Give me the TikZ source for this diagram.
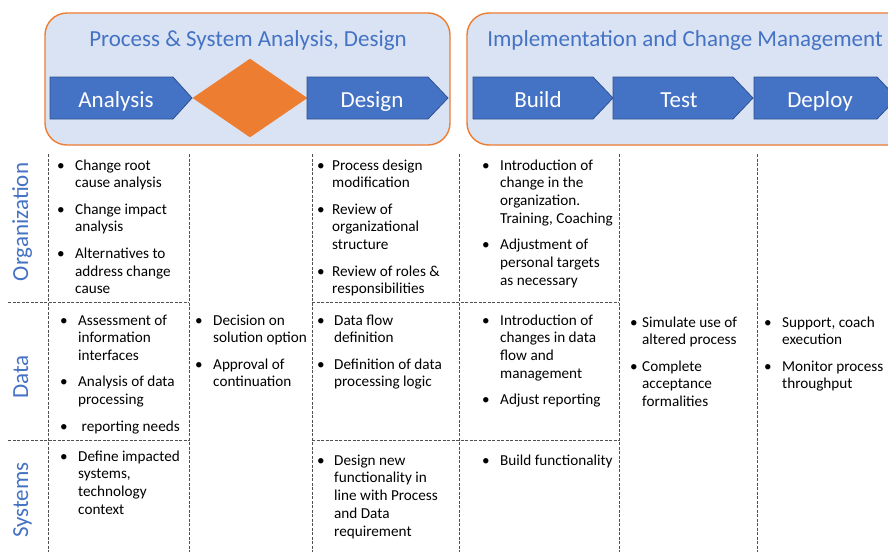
\documentclass[tikz,border=0pt]{standalone}
\usepackage{fontspec}
\setmainfont{Carlito}
\definecolor{boxfill}{HTML}{DAE3F3}
\definecolor{boxline}{HTML}{ED7D31}
\definecolor{chev}{HTML}{4472C4}
\definecolor{chevline}{HTML}{2F528F}
\definecolor{diam}{HTML}{ED7D31}
\definecolor{gridgray}{HTML}{505050}
\newcommand{\celltab}[2]{\begin{tabular}[t]{@{}p{#1}@{}l@{}}#2\end{tabular}}
\tikzset{
 phasebox/.style={draw=boxline, fill=boxfill, line width=1.4pt, rounded corners=22pt},
 chevron/.style={fill=chev, draw=chevline, line width=0.8pt},
 diamondshape/.style={fill=diam, draw=diam},
 phasetitle/.style={text=chev, font=\fontsize{23}{27}\selectfont, anchor=base, inner sep=0pt},
 chevtext/.style={text=white, font=\fontsize{23}{27}\selectfont, anchor=base, inner sep=0pt},
 rowlabel/.style={text=chev, font=\fontsize{23}{27}\selectfont, anchor=base, rotate=90, inner sep=0pt},
 cell/.style={anchor=base west, inner sep=0pt, font=\fontsize{15.2}{17.8}\selectfont, text=black},
 gridline/.style={draw=gridgray, dash pattern=on 3pt off 1.5pt, line width=0.8pt},
}
\begin{document}
\begin{tikzpicture}[x=1pt,y=-1pt]
\useasboundingbox (0,0) rectangle (888,552);
\clip (0,0) rectangle (888,552);
\fill[white] (0,0) rectangle (888,552);

% phase boxes
\draw[phasebox] (45,13) rectangle (450,145);
\draw[phasebox] (467,13) rectangle (930,145);
\node[phasetitle] (t1) at (248,46) {Process \& System Analysis, Design};
\node[phasetitle] (t2) at (685,46) {Implementation and Change Management};

% chevrons
\draw[chevron] (50,77) -- (173,77) -- (192,98) -- (173,119) -- (50,119) -- cycle;
\draw[diamondshape] (193,98) -- (250,59) -- (307,98) -- (250,137) -- cycle;
\draw[chevron] (307,77) -- (428,77) -- (448,98) -- (428,119) -- (307,119) -- cycle;
\draw[chevron] (473,77) -- (593,77) -- (613,98) -- (593,119) -- (473,119) -- cycle;
\draw[chevron] (613,77) -- (733,77) -- (753,98) -- (733,119) -- (613,119) -- cycle;
\draw[chevron] (754,77) -- (877,77) -- (897,98) -- (877,119) -- (754,119) -- cycle;
\node[chevtext] (analysis) at (116,107) {Analysis};
\node[chevtext] (design) at (372,107) {Design};
\node[chevtext] (build) at (538,107) {Build};
\node[chevtext] (test) at (679,107) {Test};
\node[chevtext] (deploy) at (820,107) {Deploy};

% row labels
\node[rowlabel] (org) at (28,222) {Organization};
\node[rowlabel] (data) at (28,377) {Data};
\node[rowlabel] (sys) at (28,500) {Systems};

% grid
\foreach \gx in {48,189,312,459,619,757}
  \draw[gridline] (\gx,154) -- (\gx,552);
\draw[gridline] (8,302) -- (189,302);
\draw[gridline] (312,302) -- (619,302);
\draw[gridline] (8,440) -- (189,440);
\draw[gridline] (312,440) -- (619,440);

% column 1
\node[cell] (c11) at (57,170) {\celltab{18pt}{%
\textbullet & Change root\\
 & cause analysis\\[8.5pt]
\textbullet & Change impact\\
 & analysis\\[8.5pt]
\textbullet & Alternatives to\\
 & address change\\
 & cause}};
\node[cell] (c12) at (60,325) {\celltab{18pt}{%
\textbullet & Assessment of\\
 & information\\
 & interfaces\\[8.5pt]
\textbullet & Analysis of data\\
 & processing\\[8.5pt]
\textbullet & \hspace{3.5pt}reporting needs}};
\node[cell] (c13) at (60,461) {\celltab{18pt}{%
\textbullet & Define impacted\\
 & systems,\\
 & technology\\
 & context}};

% column 2
\node[cell] (c22) at (195,325) {\celltab{18pt}{%
\textbullet & Decision on\\
 & solution option\\[8.5pt]
\textbullet & Approval of\\
 & continuation}};

% column 3
\node[cell] (c31) at (317,170) {\celltab{15pt}{%
\textbullet & Process design\\
 & modification\\[8.5pt]
\textbullet & Review of\\
 & organizational\\
 & structure\\[8.5pt]
\textbullet & Review of roles \&\\
 & responsibilities}};
\node[cell] (c32) at (317,325) {\celltab{17pt}{%
\textbullet & Data flow\\
 & definition\\[8.5pt]
\textbullet & Definition of data\\
 & processing logic}};
\node[cell] (c33) at (317,465) {\celltab{17pt}{%
\textbullet & Design new\\
 & functionality in\\
 & line with Process\\
 & and Data\\
 & requirement}};

% column 4
\node[cell] (c41) at (482,170) {\celltab{18pt}{%
\textbullet & Introduction of\\
 & change in the\\
 & organization.\\
 & Training, Coaching\\[8.5pt]
\textbullet & Adjustment of\\
 & personal targets\\
 & as necessary}};
\node[cell] (c42) at (482,325) {\celltab{18pt}{%
\textbullet & Introduction of\\
 & changes in data\\
 & flow and\\
 & management\\[8.5pt]
\textbullet & Adjust reporting}};
\node[cell] (c43) at (482,465) {\celltab{18pt}{%
\textbullet & Build functionality}};

% column 5
\node[cell] (c52) at (630,327) {\celltab{12pt}{%
\textbullet & Simulate use of\\
 & altered process\\[8.5pt]
\textbullet & Complete\\
 & acceptance\\
 & formalities}};

% column 6
\node[cell] (c62) at (764,327) {\celltab{18pt}{%
\textbullet & Support, coach\\
 & execution\\[8.5pt]
\textbullet & Monitor process\\
 & throughput}};
\end{tikzpicture}
\end{document}
